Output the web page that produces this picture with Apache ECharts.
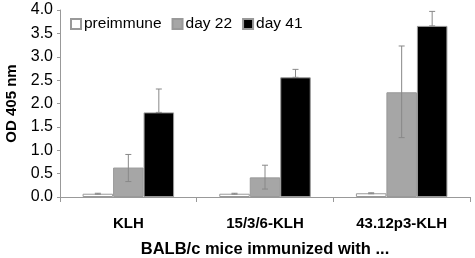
<!DOCTYPE html>
<html>
<head>
<meta charset="utf-8">
<script src="https://cdn.jsdelivr.net/npm/echarts@6/dist/echarts.min.js"></script>
<style>
  html, body { margin: 0; padding: 0; background: #fff; }
  #chart { width: 475px; height: 258px; }
</style>
</head>
<body>
<div id="chart"></div>
<script>
const categories = ['KLH', '15/3/6-KLH', '43.12p3-KLH'];
const seriesNames = ['preimmune', 'day 22', 'day 41'];

const preimmune = [0.07, 0.07, 0.08];
const day22 = [0.63, 0.42, 2.24];
const day41 = [1.81, 2.56, 3.66];

// error bars: [low, high]
const preimmuneErr = [[0.06, 0.08], [0.06, 0.08], [0.07, 0.09]];
const day22Err = [[0.33, 0.91], [0.17, 0.68], [1.27, 3.23]];
const day41Err = [[1.81, 2.31], [2.56, 2.73], [3.66, 3.97]];

const yTicks = [0, 0.5, 1.0, 1.5, 2.0, 2.5, 3.0, 3.5, 4.0];

const barW = 30.5;
const font = 'Liberation Sans, Arial, sans-serif';

const errData = [];
[preimmuneErr, day22Err, day41Err].forEach((arr, s) => {
  arr.forEach((e, i) => errData.push([i, s, e[0], e[1]]));
});

const chart = echarts.init(document.getElementById('chart'));

chart.setOption({
  animation: false,
  grid: { left: 60, right: 5, top: 10, bottom: 61, outerBoundsMode: 'none', containLabel: false },
  legend: {
    left: 65,
    top: 11,
    itemWidth: 10,
    itemHeight: 10,
    itemGap: 10,
    icon: 'rect',
    textStyle: { fontFamily: font, fontSize: 15.5, color: '#000', padding: [0, 0, 0, -2] },
    data: seriesNames
  },
  xAxis: {
    type: 'category',
    data: categories,
    name: 'BALB/c mice immunized with ...',
    nameLocation: 'middle',
    nameGap: 44,
    nameTextStyle: { fontFamily: font, fontSize: 16.5, fontWeight: 'bold', color: '#000' },
    axisLine: { lineStyle: { color: '#999' } },
    axisTick: { show: true, length: 5, lineStyle: { color: '#999' } },
    axisLabel: { fontFamily: font, fontSize: 15, fontWeight: 'bold', color: '#000', margin: 19 }
  },
  yAxis: {
    type: 'value',
    min: 0,
    max: 4,
    interval: 0.5,
    name: 'OD 405 nm',
    nameLocation: 'middle',
    nameGap: 41,
    nameTextStyle: { fontFamily: font, fontSize: 15, fontWeight: 'bold', color: '#000' },
    splitLine: { show: false },
    axisLine: { show: true, lineStyle: { color: '#999' } },
    axisTick: { show: true, length: 3, lineStyle: { color: '#999' } },
    axisLabel: {
      fontFamily: font, fontSize: 16, color: '#000', margin: 7,
      formatter: v => yTicks.includes(v) ? v.toFixed(1) : ''
    }
  },
  series: [
    {
      name: 'preimmune', type: 'bar', data: preimmune, barWidth: barW, barGap: '0%',
      itemStyle: { color: '#ffffff', borderColor: '#999', borderWidth: 1 }
    },
    {
      name: 'day 22', type: 'bar', data: day22, barWidth: barW, barGap: '0%',
      itemStyle: { color: '#a6a6a6', borderColor: '#999', borderWidth: 1 }
    },
    {
      name: 'day 41', type: 'bar', data: day41, barWidth: barW, barGap: '0%',
      itemStyle: { color: '#000000', borderColor: '#999', borderWidth: 1 }
    },
    {
      type: 'custom',
      data: errData,
      z: 10,
      renderItem: (params, api) => {
        const cat = api.value(0);
        const s = api.value(1);
        const lo = api.coord([cat, api.value(2)]);
        const hi = api.coord([cat, api.value(3)]);
        const x = lo[0] + (s - 1) * barW;
        const style = { stroke: '#888', lineWidth: 1 };
        return {
          type: 'group',
          children: [
            { type: 'line', shape: { x1: x, y1: lo[1], x2: x, y2: hi[1] }, style },
            { type: 'line', shape: { x1: x - 3, y1: hi[1], x2: x + 3, y2: hi[1] }, style },
            { type: 'line', shape: { x1: x - 3, y1: lo[1], x2: x + 3, y2: lo[1] }, style }
          ]
        };
      }
    }
  ]
});
</script>
</body>
</html>
